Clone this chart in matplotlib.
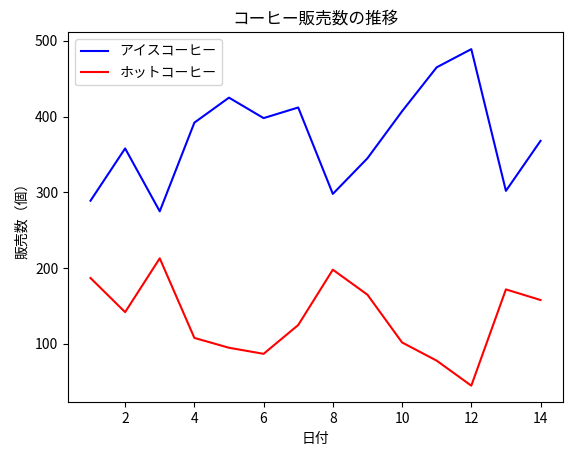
import matplotlib
matplotlib.use('Agg')
import matplotlib.pyplot as plt

plt.rcParams['font.family'] = ['Noto Sans CJK JP', 'DejaVu Sans']

days = list(range(1, 15))
iced = [289, 358, 275, 392, 425, 398, 412, 298, 345, 407, 465, 489, 302, 368]
hot = [187, 142, 213, 108, 95, 87, 125, 198, 165, 102, 78, 45, 172, 158]

fig = plt.figure(figsize=(5.73, 4.55), dpi=100)
ax = fig.add_axes([0.1187, 0.1154, 0.8639, 0.8136])

ax.plot(days, iced, color='blue', label='アイスコーヒー')
ax.plot(days, hot, color='red', label='ホットコーヒー')

ax.set_title('コーヒー販売数の推移')
ax.set_xlabel('日付')
ax.set_ylabel('販売数（個）')
ax.legend(loc='upper left')

fig.savefig('out.png', dpi=100)
